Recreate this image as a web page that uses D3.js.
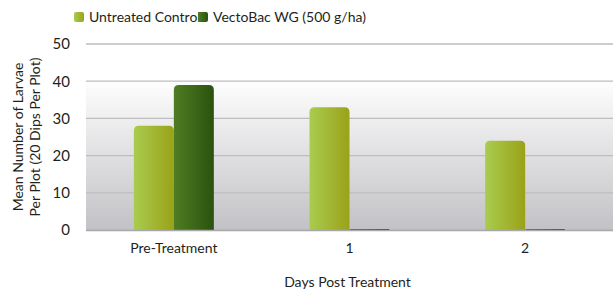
<!DOCTYPE html>
<head>
<meta charset="utf-8">
<style>
    body { margin: 0; background: #fff; }
    text { font-family: Lato, "Open Sans", sans-serif; fill: #231f20; }
    .grid line { stroke: #bdbdbf; stroke-width: 1.3px; }
</style>
<title>Larvae Bar Chart</title>
</head>
<body>
<script src="https://d3js.org/d3.v7.min.js"></script>
<script>
    // data
    const categories = ['Pre-Treatment', '1', '2'];
    const seriesNames = ['Untreated Control', 'VectoBac WG (500 g/ha)'];
    const untreated = [28, 33, 24];
    const vectobac = [39, 0.3, 0.3];
    const yTicks = [0, 10, 20, 30, 40, 50];

    const W = 613, H = 292;
    const margin = { top: 44, right: 0, bottom: 62, left: 86 };
    const width = W - margin.left - margin.right;
    const height = H - margin.top - margin.bottom;

    const svg = d3.select('body').append('svg')
        .attr('width', W)
        .attr('height', H);

    const defs = svg.append('defs');
    const bg = defs.append('linearGradient').attr('id', 'bg')
        .attr('x1', 0).attr('y1', 0).attr('x2', 0).attr('y2', 1);
    bg.append('stop').attr('offset', '0%').attr('stop-color', '#ffffff');
    bg.append('stop').attr('offset', '18%').attr('stop-color', '#ffffff');
    bg.append('stop').attr('offset', '100%').attr('stop-color', '#c2c2c6');

    const grads = [['#a9cc4f', '#9aa218'], ['#4f7d24', '#2b520e']];
    grads.forEach((c, i) => {
        const g = defs.append('linearGradient').attr('id', 'bar' + i)
            .attr('x1', 0).attr('y1', 0).attr('x2', 1).attr('y2', 0);
        g.append('stop').attr('offset', '0%').attr('stop-color', c[0]);
        g.append('stop').attr('offset', '100%').attr('stop-color', c[1]);
    });

    const group = svg.append('g')
        .attr('transform', `translate(${margin.left},${margin.top})`);

    const x = d3.scaleBand().domain(categories).range([0, width]);
    const x1 = d3.scaleBand().domain(seriesNames).range([-40, 40]);
    const y = d3.scaleLinear().domain([0, 50]).range([height, 0]);

    group.append('rect')
        .attr('width', width)
        .attr('height', height)
        .attr('fill', 'url(#bg)');

    // gridlines
    group.append('g').attr('class', 'grid')
        .selectAll('line').data(yTicks.slice(1)).enter().append('line')
        .attr('x1', 0).attr('x2', width)
        .attr('y1', d => y(d)).attr('y2', d => y(d));

    // y labels
    group.append('g')
        .call(d3.axisLeft(y).tickValues(yTicks).tickSize(0).tickPadding(16))
        .call(g => g.select('.domain').remove())
        .selectAll('text')
        .attr('font-size', '15px')
        .style('font-family', 'Lato, sans-serif')
        .attr('fill', '#231f20');

    // bars
    const rows = categories.map((c, i) => [
        { cat: c, s: seriesNames[0], v: untreated[i], k: 0 },
        { cat: c, s: seriesNames[1], v: vectobac[i], k: 1 },
    ]);
    const r = 5;
    function barPath(d) {
        const x0 = x(d.cat) + x.bandwidth() / 2 + x1(d.s);
        const w = x1.bandwidth();
        const y0 = y(d.v), yb = y(0);
        const rr = Math.min(r, (yb - y0));
        return `M${x0},${yb}V${y0 + rr}Q${x0},${y0} ${x0 + rr},${y0}H${x0 + w - rr}Q${x0 + w},${y0} ${x0 + w},${y0 + rr}V${yb}Z`;
    }
    group.append('g').selectAll('g').data(rows).enter().append('g')
        .selectAll('path').data(d => d).enter().append('path')
        .attr('d', barPath)
        .attr('fill', d => `url(#bar${d.k})`);

    // x axis line
    group.append('line')
        .attr('x1', 0).attr('x2', width)
        .attr('y1', height + 0.5).attr('y2', height + 0.5)
        .attr('stroke', '#a8a8aa').attr('stroke-width', 1.3);

    group.append('g')
        .attr('transform', `translate(0,${height})`)
        .call(d3.axisBottom(x).tickSize(0).tickPadding(13))
        .call(g => g.select('.domain').remove())
        .selectAll('text')
        .attr('font-size', '14px')
        .style('font-family', 'Lato, sans-serif')
        .attr('fill', '#231f20');

    // axis titles
    svg.append('text')
        .attr('x', margin.left + width / 2 - 2)
        .attr('y', 287)
        .attr('text-anchor', 'middle')
        .attr('font-size', '14px')
        .text('Days Post Treatment');

    const yt = svg.append('text')
        .attr('transform', `translate(0,${margin.top + height / 2}) rotate(-90)`)
        .attr('text-anchor', 'middle')
        .attr('font-size', '14px');
    yt.append('tspan').attr('x', 0).attr('y', 23).text('Mean Number of Larvae');
    yt.append('tspan').attr('x', 0).attr('y', 40).text('Per Plot (20 Dips Per Plot)');

    // legend
    const legendX = [74, 198];
    const leg = svg.append('g').selectAll('g').data(seriesNames).enter().append('g')
        .attr('transform', (d, i) => `translate(${legendX[i]},12)`);
    leg.append('rect')
        .attr('width', 10).attr('height', 10).attr('rx', 2)
        .attr('fill', (d, i) => `url(#bar${i})`);
    leg.append('text')
        .attr('x', 15).attr('y', 10)
        .attr('font-size', '14px')
        .text(d => d);
</script>
</body>
